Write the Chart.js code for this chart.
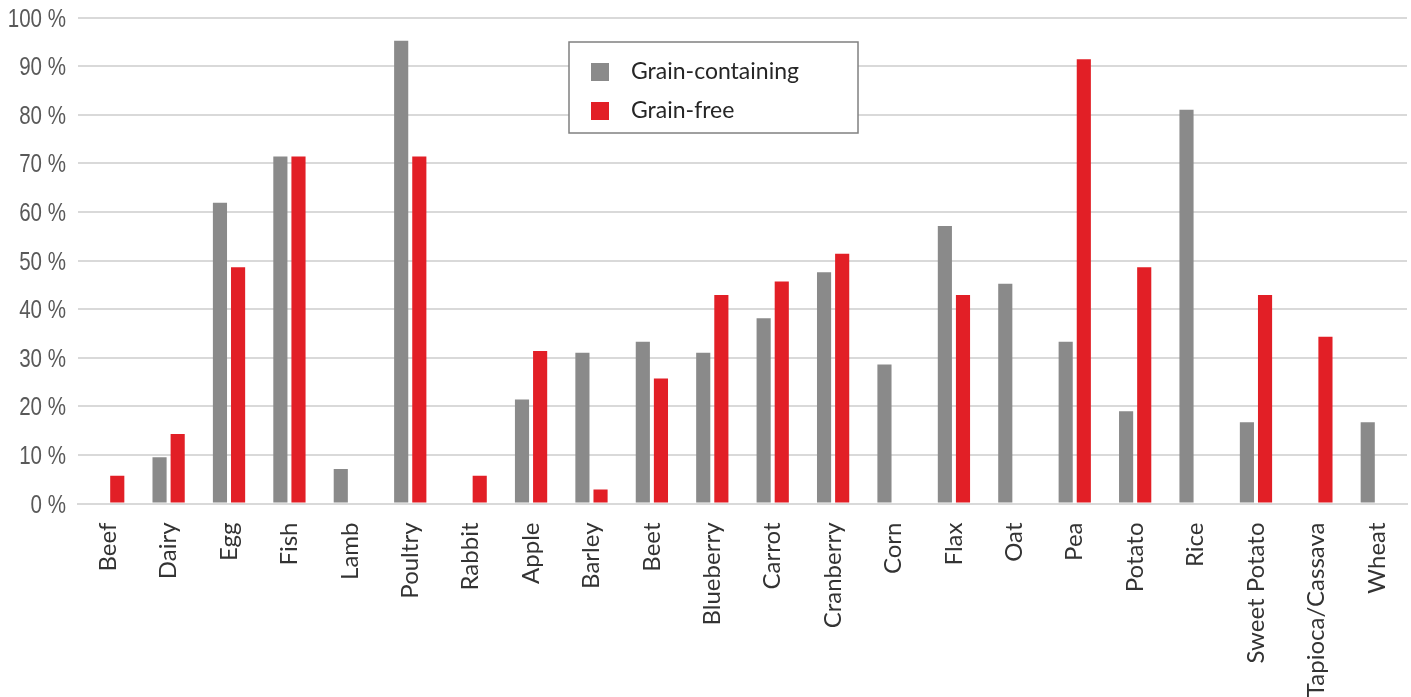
<!DOCTYPE html>
<html>
<head>
<meta charset="utf-8">
<title>Ingredients by diet type</title>
<script src="https://cdn.jsdelivr.net/npm/chart.js@4"></script>
<style>
    html, body {
        margin: 0;
        padding: 0;
        background: #ffffff;
    }
    #chartWrapper {
        position: relative;
        width: 1411px;
        height: 697px;
    }
</style>
</head>
<body>
<div id="chartWrapper">
    <canvas id="chart" width="1411" height="697"></canvas>
</div>
<script>
'use strict';

// Share of diets containing each ingredient (%)
const categories = [
    'Beef', 'Dairy', 'Egg', 'Fish', 'Lamb', 'Poultry', 'Rabbit',
    'Apple', 'Barley', 'Beet', 'Blueberry', 'Carrot', 'Cranberry', 'Corn',
    'Flax', 'Oat', 'Pea', 'Potato', 'Rice', 'Sweet Potato',
    'Tapioca/Cassava', 'Wheat',
];
const grainContaining = [
    0, 9.5, 61.9, 71.4, 7.1, 95.2, 0,
    21.4, 31.0, 33.3, 31.0, 38.1, 47.6, 28.6,
    57.1, 45.2, 33.3, 19.0, 81.0, 16.7,
    0, 16.7,
];
const grainFree = [
    5.7, 14.3, 48.6, 71.4, 0, 71.4, 5.7,
    31.4, 2.9, 25.7, 42.9, 45.7, 51.4, 0,
    42.9, 0, 91.4, 48.6, 0, 42.9,
    34.3, 0,
];
const yTicks = [0, 10, 20, 30, 40, 50, 60, 70, 80, 90, 100];

const GRAY = '#8a8a8a';
const RED = '#e21f26';
const labelFont = "Lato, 'Open Sans', sans-serif";

const formatPct = function (value) {
    return value + ' %';
};

// No narrow face installed, so the y labels get squeezed by hand
const narrowYLabels = {
    id: 'narrowYLabels',
    afterDraw: function (chart) {
        const ctx = chart.ctx;
        const yScale = chart.scales.y;
        const rightEdge = yScale.right - 12;
        ctx.save();
        ctx.font = "26px 'Liberation Sans', Arial, sans-serif";
        ctx.fillStyle = '#595959';
        ctx.textAlign = 'right';
        ctx.textBaseline = 'middle';
        yScale.ticks.forEach((tick) => {
            const py = yScale.getPixelForValue(tick.value);
            ctx.save();
            ctx.translate(rightEdge, py + 2);
            ctx.scale(0.79, 1);
            ctx.fillText(formatPct(tick.value), 0, 0);
            ctx.restore();
        });
        ctx.restore();
    },
};

// Boxed legend drawn inside the plot, Excel style
const boxedLegend = {
    id: 'boxedLegend',
    afterDraw: function (chart) {
        const ctx = chart.ctx;
        const x = 569;
        const y = 42;
        const w = 289;
        const h = 91;
        ctx.save();
        ctx.fillStyle = '#ffffff';
        ctx.fillRect(x, y, w, h);
        ctx.strokeStyle = '#808080';
        ctx.lineWidth = 1.5;
        ctx.strokeRect(x, y, w, h);
        ctx.font = '23px ' + labelFont;
        ctx.textBaseline = 'middle';
        chart.data.datasets.forEach((ds, i) => {
            const rowY = y + 30 + i * 39;
            ctx.fillStyle = ds.backgroundColor;
            ctx.fillRect(x + 22, rowY - 9, 18, 18);
            ctx.fillStyle = '#262626';
            ctx.fillText(ds.label, x + 62, rowY);
        });
        ctx.restore();
    },
};

const chart = new Chart(document.getElementById('chart'), {
    type: 'bar',
    data: {
        labels: categories,
        datasets: [
            {
                label: 'Grain-containing',
                data: grainContaining,
                backgroundColor: GRAY,
            },
            {
                label: 'Grain-free',
                data: grainFree,
                backgroundColor: RED,
            },
        ],
    },
    options: {
        responsive: false,
        animation: false,
        layout: {
            padding: { top: 17.5, right: 4, left: 0, bottom: 0 },
        },
        datasets: {
            bar: {
                categoryPercentage: 0.6,
                barPercentage: 0.78,
            },
        },
        plugins: {
            legend: { display: false },
            tooltip: { enabled: false },
        },
        scales: {
            x: {
                grid: { display: false, drawTicks: false },
                border: { display: true, color: '#d9d9d9', width: 2 },
                ticks: {
                    minRotation: 90,
                    maxRotation: 90,
                    autoSkip: false,
                    padding: 19,
                    color: '#333333',
                    font: { family: labelFont, size: 24 },
                },
                afterFit: function (scale) {
                    scale.height = 193.5;
                    // let the plot run to the right edge
                    scale.paddingLeft = 0;
                    scale.paddingRight = 0;
                },
            },
            y: {
                min: 0,
                max: 100,
                afterBuildTicks: function (scale) {
                    scale.ticks = yTicks.map((v) => ({ value: v }));
                },
                grid: {
                    color: '#d9d9d9',
                    lineWidth: 2,
                    drawTicks: false,
                },
                border: { display: false },
                ticks: { display: false },
                afterFit: function (scale) {
                    scale.width = 78;
                },
            },
        },
    },
    plugins: [narrowYLabels, boxedLegend],
});
</script>
</body>
</html>
